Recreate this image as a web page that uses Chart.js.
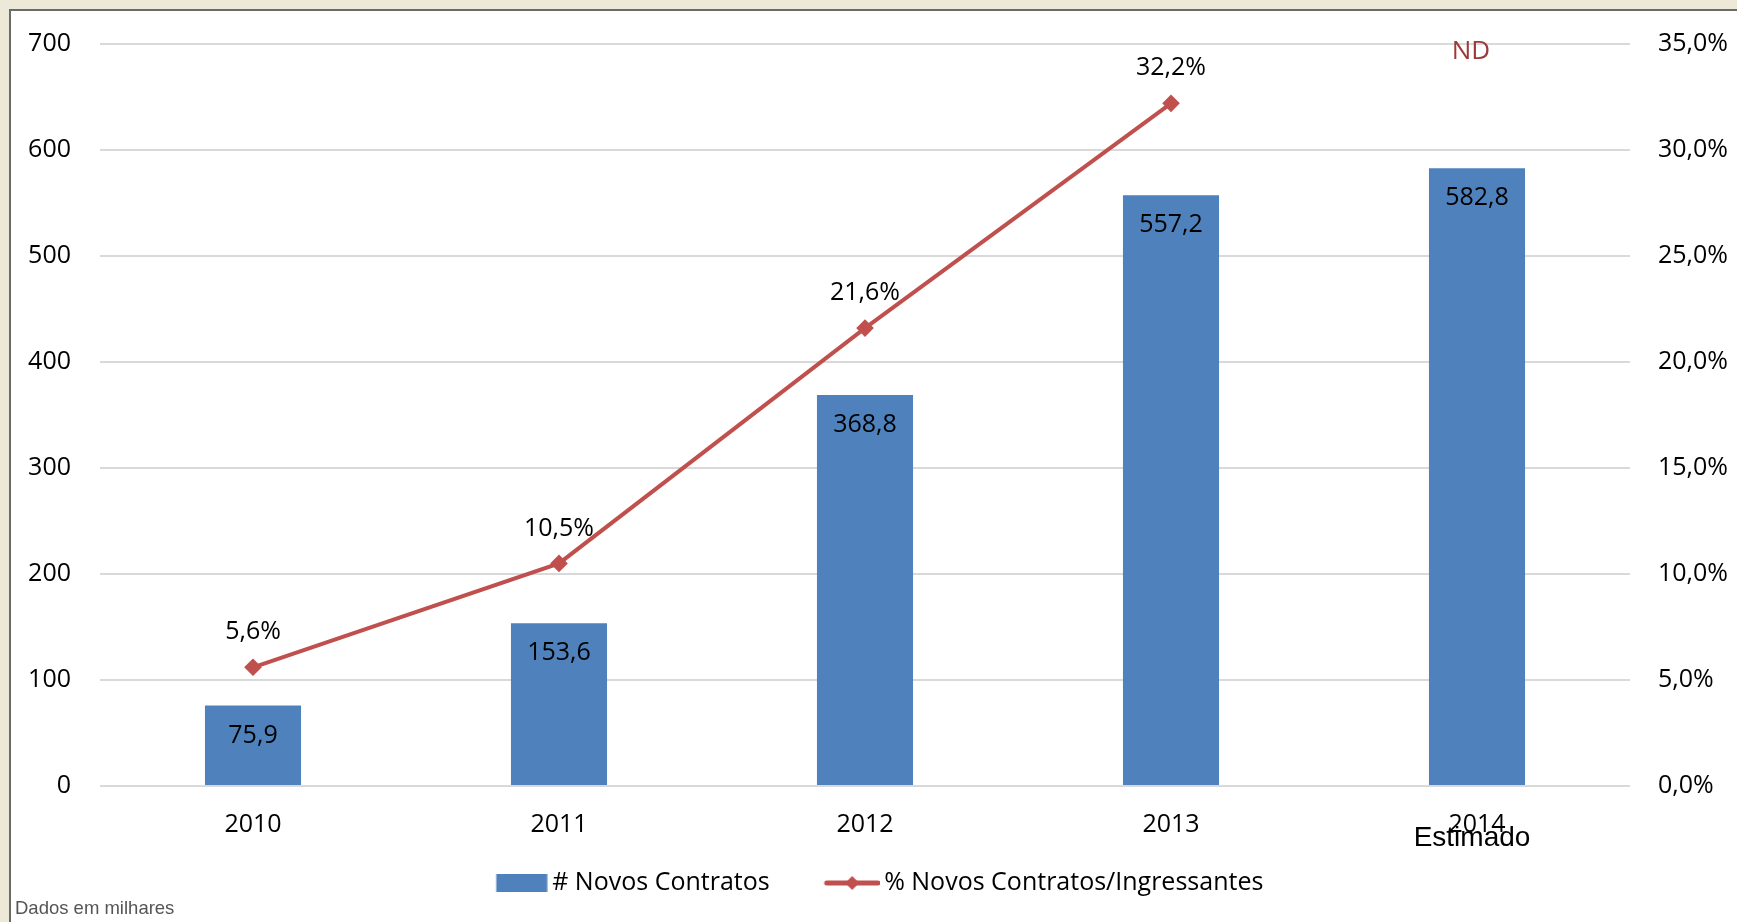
<!DOCTYPE html>
<html>
<head>
<meta charset="utf-8">
<script src="https://cdn.jsdelivr.net/npm/chart.js@4/dist/chart.umd.min.js"></script>
<style>
  html, body { margin: 0; padding: 0; background: #ece9d8; }
  #wrap { position: absolute; left: 0; top: 0; width: 1737px; height: 922px; }
</style>
</head>
<body>
<div id="wrap"><canvas id="chart" width="1737" height="922"></canvas></div>
<script>
// values (thousands / percent)
var years = ['2010', '2011', '2012', '2013', '2014'];
var contratos = [75.9, 153.6, 368.8, 557.2, 582.8];
var percentual = [5.6, 10.5, 21.6, 32.2, null];
var leftTicks = [0, 100, 200, 300, 400, 500, 600, 700];
var rightTicks = [0, 5, 10, 15, 20, 25, 30, 35];

var BLUE = '#4f81bd';
var RED = '#c0504d';
var FONT = '"Open Sans", "Noto Sans", sans-serif';
var SYMBOL_W = 92; // legend symbol slot

function fmt(v) { return v.toFixed(1).replace('.', ','); }

// legend symbols: transparent on the left so items get Excel-like spacing
function legendBar() {
  var c = document.createElement('canvas');
  c.width = SYMBOL_W + 16; c.height = 18;
  var g = c.getContext('2d');
  g.fillStyle = BLUE;
  g.fillRect(c.width - 51.5, 0, 51, 18);
  return c;
}
function legendLine() {
  var c = document.createElement('canvas');
  c.width = SYMBOL_W + 16; c.height = 16;
  var g = c.getContext('2d');
  var x0 = c.width - 53, x1 = c.width - 2;
  g.strokeStyle = RED;
  g.lineWidth = 5;
  g.lineCap = 'round';
  g.beginPath(); g.moveTo(x0, 8); g.lineTo(x1, 8); g.stroke();
  var cx = (x0 + x1) / 2;
  g.fillStyle = RED;
  g.beginPath(); g.moveTo(cx, 1); g.lineTo(cx + 7, 8); g.lineTo(cx, 15); g.lineTo(cx - 7, 8); g.closePath(); g.fill();
  return c;
}
var legendImages = [legendBar(), legendLine()];

var frame = {
  id: 'frame',
  beforeDraw: function(chart) {
    var ctx = chart.ctx;
    ctx.save();
    ctx.fillStyle = '#ece9d8';
    ctx.fillRect(0, 0, chart.width, chart.height);
    ctx.fillStyle = '#ffffff';
    ctx.fillRect(9, 9, chart.width - 9, chart.height - 9);
    ctx.fillStyle = '#6b6b6b';
    ctx.fillRect(9, 9, chart.width - 9, 2);
    ctx.fillRect(9, 9, 2, chart.height - 9);
    ctx.restore();
  }
};

var labels = {
  id: 'labels',
  afterDatasetsDraw: function(chart) {
    var ctx = chart.ctx;
    ctx.save();
    ctx.font = '25px ' + FONT;
    ctx.fillStyle = '#000';
    ctx.textAlign = 'center';
    ctx.textBaseline = 'middle';
    chart.getDatasetMeta(0).data.forEach(function(bar, i) {
      ctx.fillText(fmt(contratos[i]), bar.x, bar.y + 30);
    });
    chart.getDatasetMeta(1).data.forEach(function(pt, i) {
      if (percentual[i] == null) return;
      ctx.fillText(fmt(percentual[i]) + '%', pt.x, pt.y - 35);
    });
    var x = chart.scales.x;
    var area = chart.chartArea;
    ctx.fillStyle = '#9c3a3a';
    ctx.font = '26px ' + FONT;
    ctx.fillText('ND', x.getPixelForValue(4) - 6, area.top + 8);
    ctx.fillStyle = '#000';
    ctx.font = '28px "Liberation Sans", Arial, sans-serif';
    ctx.fillText('Estimado', x.getPixelForValue(4) - 5, 838);
    ctx.fillStyle = '#555';
    ctx.font = '18.5px "Liberation Sans", Arial, sans-serif';
    ctx.textAlign = 'left';
    ctx.textBaseline = 'alphabetic';
    ctx.fillText('Dados em milhares', 15, 914);
    ctx.restore();
  }
};

new Chart(document.getElementById('chart'), {
  type: 'bar',
  data: {
    labels: years,
    datasets: [{
      label: '# Novos Contratos',
      data: contratos,
      backgroundColor: BLUE,
      borderWidth: 0,
      barPercentage: 0.314,
      categoryPercentage: 1,
      yAxisID: 'y'
    }, {
      type: 'line',
      label: '% Novos Contratos/Ingressantes',
      data: percentual,
      borderColor: RED,
      backgroundColor: RED,
      borderWidth: 4,
      pointStyle: 'rectRot',
      pointRadius: 6,
      pointHoverRadius: 6,
      spanGaps: false,
      tension: 0,
      yAxisID: 'y1'
    }]
  },
  options: {
    responsive: false,
    animation: false,
    layout: { padding: { top: 37, left: 0, right: 0, bottom: 16.5 } },
    scales: {
      x: {
        grid: { display: false },
        border: { display: false },
        ticks: { color: '#000', font: { family: FONT, size: 25 }, padding: 16, maxRotation: 0 },
        afterFit: function(s) { s.height = 74.5; }
      },
      y: {
        position: 'left',
        min: 0, max: 700,
        afterBuildTicks: function(s) { s.ticks = leftTicks.map(function(v) { return { value: v }; }); },
        grid: { color: '#d9d9d9', lineWidth: 2, drawTicks: false },
        border: { display: false },
        ticks: { color: '#000', font: { family: FONT, size: 25 }, padding: 29 },
        afterFit: function(s) { s.width = 100; }
      },
      y1: {
        position: 'right',
        min: 0, max: 35,
        afterBuildTicks: function(s) { s.ticks = rightTicks.map(function(v) { return { value: v }; }); },
        grid: { display: false, drawTicks: false },
        border: { display: false },
        ticks: {
          color: '#000', font: { family: FONT, size: 25 }, padding: 28,
          callback: function(v) { return fmt(v) + '%'; }
        },
        afterFit: function(s) { s.width = 107; }
      }
    },
    plugins: {
      tooltip: { enabled: false },
      legend: {
        position: 'bottom',
        labels: {
          color: '#000',
          font: { family: FONT, size: 25 },
          padding: 10,
          usePointStyle: true,
          pointStyleWidth: SYMBOL_W,
          generateLabels: function(chart) {
            var items = Chart.defaults.plugins.legend.labels.generateLabels(chart);
            items.forEach(function(it) { it.pointStyle = legendImages[it.datasetIndex]; });
            // trailing room so the row sits a bit left, as in Excel
            items[items.length - 1].text += '    ';
            return items;
          }
        }
      }
    }
  },
  plugins: [frame, labels]
});
</script>
</body>
</html>
